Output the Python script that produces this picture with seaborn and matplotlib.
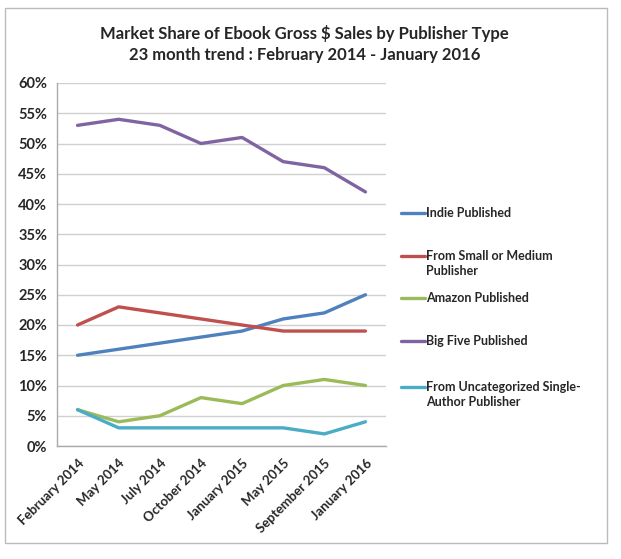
import matplotlib
matplotlib.use("Agg")
import matplotlib.pyplot as plt
import matplotlib.patches as patches
from matplotlib.ticker import PercentFormatter, FixedLocator
import pandas as pd
import seaborn as sns

# data (percent)
months = ["February 2014", "May 2014", "July 2014", "October 2014",
          "January 2015", "May 2015", "September 2015", "January 2016"]
indie = [15, 16, 17, 18, 19, 21, 22, 25]
small_medium = [20, 23, 22, 21, 20, 19, 19, 19]
amazon = [6, 4, 5, 8, 7, 10, 11, 10]
big_five = [53, 54, 53, 50, 51, 47, 46, 42]
uncategorized = [6, 3, 3, 3, 3, 3, 2, 4]

series_names = ["Indie Published", "From Small or Medium\nPublisher",
                "Amazon Published", "Big Five Published",
                "From Uncategorized Single-\nAuthor Publisher"]
colors = ["#4F81BD", "#C0504D", "#9BBB59", "#8064A2", "#4BACC6"]

wide = pd.DataFrame({
    "month": months,
    series_names[0]: indie,
    series_names[1]: small_medium,
    series_names[2]: amazon,
    series_names[3]: big_five,
    series_names[4]: uncategorized,
})
df = wide.melt(id_vars="month", var_name="series", value_name="share")
df["pos"] = df["month"].map({m: i for i, m in enumerate(months)})

sns.set_style("white")
plt.rcParams["font.family"] = ["Lato", "DejaVu Sans"]
plt.rcParams["font.weight"] = "bold"

fig = plt.figure(figsize=(6.21, 5.59), dpi=100)
ax = fig.add_axes([57 / 621, 1 - 446 / 559, (386 - 57) / 621, (446 - 83) / 559])

sns.lineplot(data=df, x="pos", y="share", hue="series", hue_order=series_names,
             palette=colors, linewidth=2.4, ax=ax, legend=False, sort=False)

ax.set_xlim(-0.5, len(months) - 0.5)
ax.set_ylim(0, 60)
ax.set_yticks(range(0, 61, 5))
ax.yaxis.set_major_formatter(PercentFormatter(decimals=0))
ax.set_xticks(range(len(months)))
ax.set_xticklabels(months, rotation=45, ha="right", rotation_mode="anchor",
                   fontsize=9.5, fontweight="bold")
ax.xaxis.set_minor_locator(FixedLocator([i - 0.5 for i in range(len(months) + 1)]))
ax.tick_params(axis="x", which="major", length=0, pad=8)
ax.tick_params(axis="x", which="minor", length=4, color="#aaaaaa", direction="out")
ax.tick_params(axis="y", length=4, color="#aaaaaa", direction="out", labelsize=10.5, pad=3)
for lab in ax.get_yticklabels():
    lab.set_fontweight("bold")
ax.set_xlabel("")
ax.set_ylabel("")
ax.grid(axis="y", color="#d0d0d0", linewidth=1)
ax.set_axisbelow(True)
for side in ["top", "right"]:
    ax.spines[side].set_visible(False)
for side in ["left", "bottom"]:
    ax.spines[side].set_color("#aaaaaa")
    ax.spines[side].set_linewidth(1)

# legend: one block per series, handle beside the first line (Excel style)
legend_y = [212, 255, 297, 340, 386]
for name, color, ypx in zip(series_names, colors, legend_y):
    lines = name.split("\n")
    hs = [plt.Line2D([], [], color=color, linewidth=2.4)]
    hs += [plt.Line2D([], [], linestyle="none")] * (len(lines) - 1)
    fig.legend(hs, lines, loc="upper left",
               bbox_to_anchor=(401 / 621, 1 - (ypx - 5) / 559), frameon=False,
               borderpad=0, borderaxespad=0, handlelength=1.9, handletextpad=0.1,
               labelspacing=0.25, prop={"size": 9, "weight": "bold"})

fig.text(0.49, 1 - 33 / 559, "Market Share of Ebook Gross $ Sales by Publisher Type",
         ha="center", va="center", fontsize=12, fontweight="bold")
fig.text(0.49, 1 - 55 / 559, "23 month trend : February 2014 - January 2016",
         ha="center", va="center", fontsize=12, fontweight="bold")

fig.patches.append(patches.Rectangle((5 / 621, 1 - 543 / 559), 602 / 621, 535 / 559,
                                     transform=fig.transFigure, fill=False,
                                     edgecolor="#bbbbbb", linewidth=1))

fig.savefig("out.png", dpi=100)
